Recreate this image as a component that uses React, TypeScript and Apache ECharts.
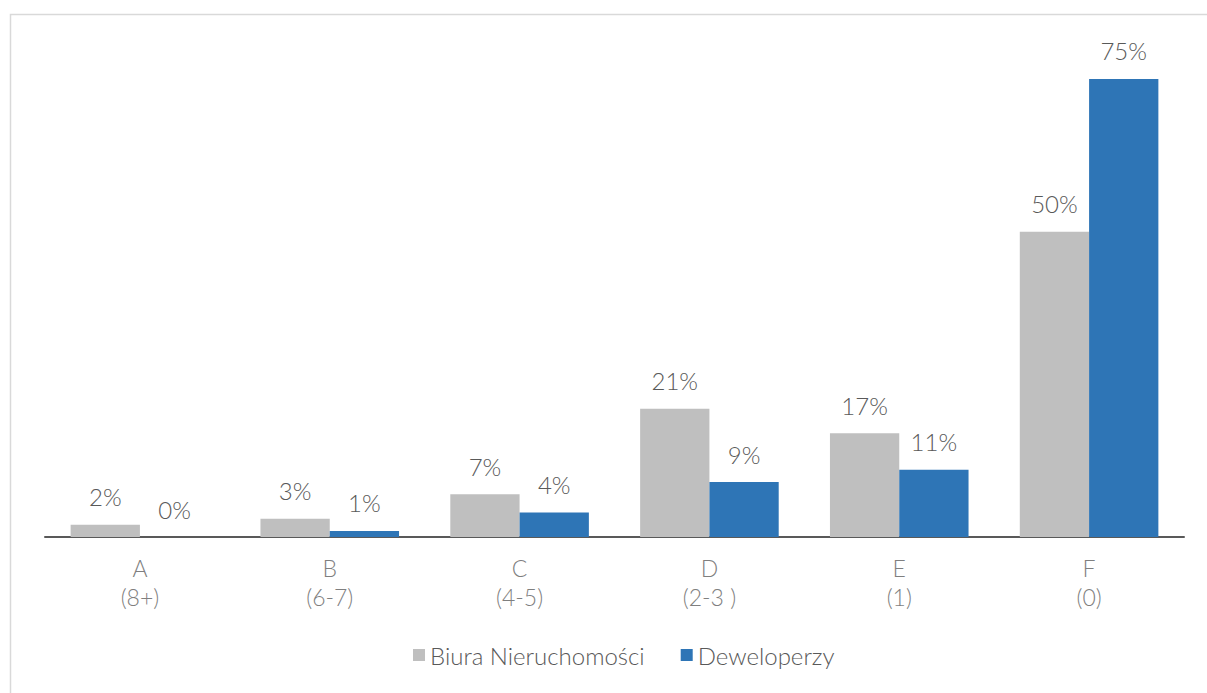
import React, { useEffect, useRef } from "react";
import * as echarts from "echarts";

const categories = ["A\n(8+)", "B\n(6-7)", "C\n(4-5)", "D\n(2-3 )", "E\n(1)", "F\n(0)"];
const seriesNames = ["Biura Nieruchomości", "Deweloperzy"];
const biuraValues = [2, 3, 7, 21, 17, 50];
const deweloperzyValues = [0, 1, 4, 9, 11, 75];

const FONT = "Lato, 'Noto Sans', sans-serif";

export default function App() {
  const ref = useRef<HTMLDivElement>(null);
  useEffect(() => {
    if (!ref.current) return;
    const chart = echarts.init(ref.current, undefined, { renderer: "svg" });
    const label = {
      show: true,
      position: "top" as const,
      distance: 16,
      formatter: "{c}%",
      color: "#595959",
      fontSize: 24,
      fontWeight: 300 as any,
      fontFamily: FONT,
    };
    chart.setOption({
      animation: false,
      backgroundColor: "#ffffff",
      graphic: [
        {
          type: "rect",
          shape: { x: 10.5, y: 14.5, width: 1400, height: 900 },
          style: { fill: "none", stroke: "#d9d9d9", lineWidth: 1.5 },
          silent: true,
          z: -10,
        },
      ],
      grid: { left: 45, right: 23, top: 48.4, bottom: 156, containLabel: false },
      legend: {
        bottom: 21,
        left: 408,
        itemWidth: 12,
        itemHeight: 12,
        itemGap: 36,
        icon: "rect",
        textStyle: { color: "#595959", fontSize: 24, fontWeight: 300 as any, fontFamily: FONT },
        data: seriesNames,
      },
      xAxis: {
        type: "category",
        data: categories,
        axisLine: { show: true, lineStyle: { color: "#595959", width: 2 } },
        axisTick: { show: false },
        axisLabel: {
          color: "#7f7f7f",
          fontSize: 23,
          fontWeight: 300 as any,
          fontFamily: FONT,
          lineHeight: 29,
          margin: 16,
        },
      },
      yAxis: {
        type: "value",
        min: 0,
        max: 80,
        show: false,
        splitLine: { show: false },
      },
      series: [
        {
          name: seriesNames[0],
          type: "bar",
          data: biuraValues,
          itemStyle: { color: "#bfbfbf" },
          barGap: "0%",
          barCategoryGap: "27%",
          label,
        },
        {
          name: seriesNames[1],
          type: "bar",
          data: deweloperzyValues,
          itemStyle: { color: "#2e75b6" },
          barGap: "0%",
          barCategoryGap: "27%",
          label,
        },
      ],
    });
    return () => chart.dispose();
  }, []);
  return (
    <div
      ref={ref}
      style={{ position: "fixed", left: 0, top: 0, width: 1207, height: 693 }}
    />
  );
}
